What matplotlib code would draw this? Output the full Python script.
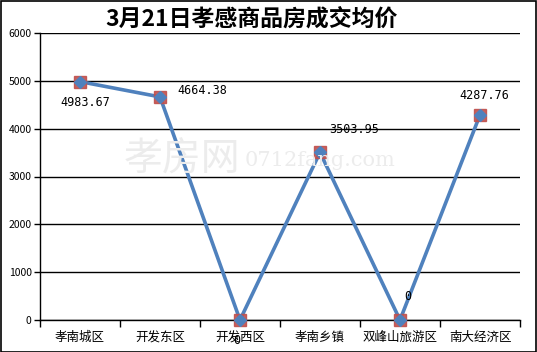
import matplotlib
matplotlib.use("Agg")
import matplotlib.pyplot as plt
from matplotlib.patches import Rectangle

plt.rcParams['font.family'] = ['Noto Sans CJK SC', 'DejaVu Sans']

categories = ['孝南城区', '开发东区', '开发西区', '孝南乡镇', '双峰山旅游区', '南大经济区']
values = [4983.67, 4664.38, 0, 3503.95, 0, 4287.76]
label_texts = ['4983.67', '4664.38', '0', '3503.95', '0', '4287.76']
yticks = [0, 1000, 2000, 3000, 4000, 5000, 6000]
title = '3月21日孝感商品房成交均价'

W, H = 537, 352
fig = plt.figure(figsize=(W / 100, H / 100), dpi=100)
ax = fig.add_axes([40 / W, 1 - 320 / H, 480 / W, 287 / H])

x = list(range(len(categories)))
ax.plot(x, values, color='#4F81BD', lw=2.6, zorder=3)
ax.plot(x, values, ls='none', marker='s', ms=8.5, mfc='#C0504D', mec='#C0504D', alpha=0.9, zorder=4, clip_on=False)
ax.plot(x, values, ls='none', marker='D', ms=6.5, mfc='#4F81BD', mec='#4F81BD', zorder=5, clip_on=False)

# offsets in pixels (dx right, dy up) of label centre from the point
offsets = [(5, -21), (42, 6), (-3, -20), (34, 23), (8, 24), (4, 19)]
for xi, v, t, (dx, dy) in zip(x, values, label_texts, offsets):
    ax.annotate(t, (xi, v), xytext=(dx * 0.72, dy * 0.72), textcoords='offset points', ha='center', va='center',
                fontsize=8.5, family='DejaVu Sans Mono', zorder=6, annotation_clip=False)

ax.set_xlim(-0.5, len(categories) - 0.5)
ax.set_ylim(0, 6000)
ax.set_yticks(yticks)
ax.set_yticklabels([str(t) for t in yticks], fontsize=7.5)
ax.set_xticks(x)
ax.set_xticklabels(categories, fontsize=9)
ax.set_xticks([i - 0.5 for i in range(len(categories) + 1)], minor=True)
ax.tick_params(axis='x', which='major', length=0, pad=8)
ax.tick_params(axis='x', which='minor', length=5, width=1, direction='out')
ax.tick_params(axis='y', length=4, width=1, direction='out', pad=2)
ax.grid(axis='y', color='black', lw=1)
ax.set_axisbelow(True)
for s in ['top', 'right']:
    ax.spines[s].set_visible(False)
ax.spines['left'].set_linewidth(1)
ax.spines['bottom'].set_linewidth(1)

# watermark
fig.text(182 / W, 1 - 160 / H, '孝房网', fontsize=28, color='#ececec', ha='center', va='center', zorder=0)
fig.text(320 / W, 1 - 160 / H, '0712fang.com', fontsize=15, color='#ececec', family='DejaVu Serif',
         ha='center', va='center', zorder=0)

fig.text(252 / W, 1 - 19 / H, title, fontsize=16.5, fontweight='bold', ha='center', va='center')

fig.patches.append(Rectangle((0.5 / W, 0.5 / H), (W - 1.5) / W, (H - 1.5) / H, transform=fig.transFigure,
                             fill=False, ec='black', lw=1.2))

fig.savefig('out.png', dpi=100)
